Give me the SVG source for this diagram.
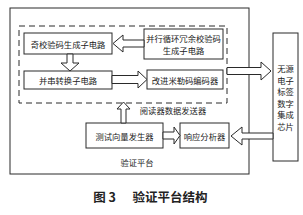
<svg xmlns="http://www.w3.org/2000/svg" width="303" height="215" viewBox="0 0 303 215">
<style>
.box{fill:#fff;stroke:#2a2a2a;stroke-width:1}
.frame{fill:none;stroke:#2a2a2a;stroke-width:1}
.dash{fill:none;stroke:#2a2a2a;stroke-width:1;stroke-dasharray:6 4}
.arr{fill:#fff;stroke:#2a2a2a;stroke-width:1;stroke-linejoin:miter}
text{font-family:"Noto Sans CJK SC","Noto Sans",sans-serif;fill:#222;font-size:8.3px;text-anchor:middle;dominant-baseline:central}
.cap{font-size:12.5px;font-weight:bold}
</style>
<rect width="303" height="215" fill="#fff"/>
<g id="platform">
<rect class="frame" x="10" y="8" width="239" height="166"/>
<text x="137" y="162">验证平台</text>
</g>
<g id="sender">
<rect class="dash" x="19" y="26" width="208" height="77"/>
<text x="173" y="110">阅读器数据发送器</text>
</g>
<g id="parity">
<rect class="box" x="24" y="33" width="88" height="21"/>
<text x="68" y="43.5">奇校验码生成子电路</text>
</g>
<g id="crc">
<rect class="box" x="144" y="29" width="79" height="30"/>
<text x="183.5" y="38">并行循环冗余校验码</text>
<text x="183.5" y="50">生成子电路</text>
</g>
<g id="p2s">
<rect class="box" x="24" y="71" width="88" height="18"/>
<text x="68" y="80">并串转换子电路</text>
</g>
<g id="miller">
<rect class="box" x="147" y="70" width="76" height="19"/>
<text x="185" y="79.5">改进米勒码编码器</text>
</g>
<g id="testgen">
<rect class="box" x="86" y="123" width="77" height="25"/>
<text x="124.5" y="135.5">测试向量发生器</text>
</g>
<g id="analyzer">
<rect class="box" x="180" y="123" width="49" height="25"/>
<text x="204.5" y="135.5">响应分析器</text>
</g>
<g id="chip">
<rect class="box" x="273" y="33" width="25" height="128"/>
<text x="285.5" y="68">无源</text>
<text x="285.5" y="79.5">电子</text>
<text x="285.5" y="91">标签</text>
<text x="285.5" y="102.5">数字</text>
<text x="285.5" y="114">集成</text>
<text x="285.5" y="125.5">芯片</text>
</g>
<g id="connectors">
<polygon class="arr" points="113,43.5 123,35 123,40 144,40 144,47 123,47 123,52"/>
<polygon class="arr" points="70,71 61,63 67,63 67,54 73,54 73,63 79,63"/>
<polygon class="arr" points="147,79.5 138,71 138,75.5 112,75.5 112,83.5 138,83.5 138,88"/>
<polygon class="arr" points="271,71 261,62 261,67.5 227,67.5 227,74.5 261,74.5 261,80"/>
<polygon class="arr" points="123.5,102 117,109 121,109 121,123 126,123 126,109 130,109"/>
<polygon class="arr" points="180,135.5 174,127 174,132 163,132 163,139 174,139 174,144"/>
<polygon class="arr" points="231,136 242,127 242,133 273,133 273,139 242,139 242,145"/>
</g>
<g id="caption">
<text class="cap" x="104.5" y="196">图 3</text>
<text class="cap" x="170" y="196">验证平台结构</text>
</g>
</svg>
